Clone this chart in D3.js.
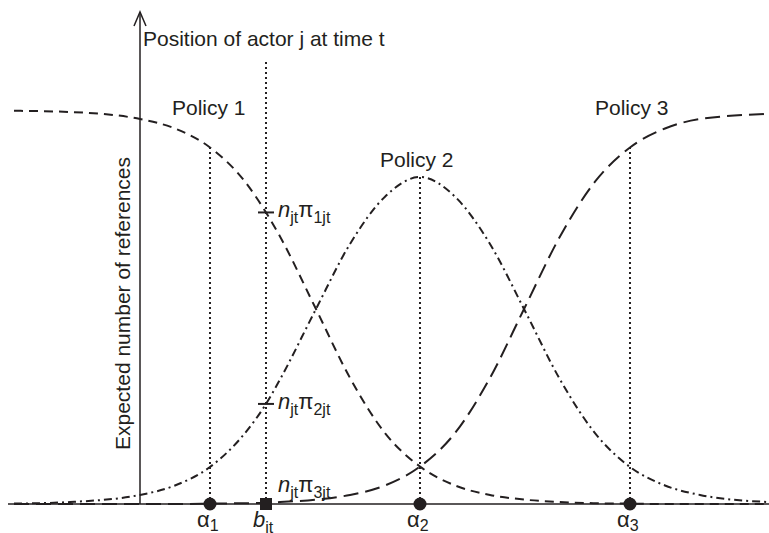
<!DOCTYPE html>
<html>
<head>
<meta charset="utf-8">
<script src="https://cdn.jsdelivr.net/npm/d3@7"></script>
<style>
  body { margin: 0; background: #fff; }
  text { font-family: "Liberation Sans", Arial, sans-serif; fill: #231f20; }
</style>
</head>
<body>
<script>
// Expected references to each policy along the actor position scale

var positions = [-2.9, -2.5, -2.0, -1.75, -1.5, -1.25, -1.1, -1.0, -0.75, -0.5, -0.25, 0, 0.25, 0.5, 0.75, 1.0, 1.25, 1.5, 1.75, 2.0, 2.49];
var policy1 = [0.998, 0.995, 0.977, 0.953, 0.905, 0.818, 0.74, 0.679, 0.5, 0.32, 0.18, 0.095, 0.047, 0.023, 0.011, 0.005, 0.002, 0.001, 0, 0, 0];
var policy2 = [0.001, 0.005, 0.023, 0.047, 0.094, 0.18, 0.254, 0.316, 0.49, 0.66, 0.78, 0.83, 0.78, 0.66, 0.49, 0.316, 0.18, 0.094, 0.047, 0.023, 0.005];
var policy3 = [0, 0, 0, 0, 0.001, 0.002, 0.003, 0.005, 0.011, 0.023, 0.047, 0.095, 0.18, 0.32, 0.5, 0.679, 0.818, 0.905, 0.953, 0.977, 0.99];
var policyNames = ["Policy 1", "Policy 2", "Policy 3"];
var cutpoints = [-1.5, 0, 1.5];
var cutLabels = ["1", "2", "3"];
var actorPos = -1.1;

var width = 769;
var height = 533;

var x = d3.scaleLinear()
        .domain([-3, 2.5])
        .range([0, 770]);

var y = d3.scaleLinear()
        .domain([0, 1])
        .range([504, 110]);

var svg = d3.select("body")
            .append("svg")
            .attr("width", width)
            .attr("height", height);

var series = [
  {values: policy1, dash: "9,6"},
  {values: policy2, dash: "8,4,2,4"},
  {values: policy3, dash: "15,7"}
];

var line = d3.line()
          .x(function(d) { return x(d[0]); })
          .y(function(d) { return y(d[1]); })
          .curve(d3.curveMonotoneX);

// horizontal axis
svg.append("line")
   .attr("x1", 8).attr("x2", width)
   .attr("y1", y(0)).attr("y2", y(0))
   .attr("stroke", "#231f20")
   .attr("stroke-width", 1.5);

// vertical axis with open arrow
var yAxisX = x(-2);
svg.append("line")
   .attr("x1", yAxisX).attr("x2", yAxisX)
   .attr("y1", y(0)).attr("y2", 12)
   .attr("stroke", "#231f20")
   .attr("stroke-width", 1.5);
svg.append("path")
   .attr("d", "M" + (yAxisX - 6) + ",26 L" + yAxisX + ",12 L" + (yAxisX + 6) + ",26")
   .attr("fill", "none")
   .attr("stroke", "#231f20")
   .attr("stroke-width", 1.5);

// dotted guides at the cutpoints, up to the peak curve there
var peakCurve = [policy1, policy2, policy3];
svg.selectAll(".guide")
   .data(cutpoints)
   .enter()
   .append("line")
   .attr("class", "guide")
   .attr("x1", function(d) { return x(d); })
   .attr("x2", function(d) { return x(d); })
   .attr("y1", y(0))
   .attr("y2", function(d, i) { return y(peakCurve[i][positions.indexOf(d)]); })
   .attr("stroke", "#231f20")
   .attr("stroke-width", 2)
   .attr("stroke-dasharray", "2,3");

// actor position line
svg.append("line")
   .attr("x1", x(actorPos)).attr("x2", x(actorPos))
   .attr("y1", y(0)).attr("y2", 62)
   .attr("stroke", "#231f20")
   .attr("stroke-width", 2)
   .attr("stroke-dasharray", "2,3");

// curves
svg.selectAll(".curve")
   .data(series)
   .enter()
   .append("path")
   .attr("class", "curve")
   .attr("d", function(s) { return line(positions.map(function(p, i) { return [p, s.values[i]]; })); })
   .attr("fill", "none")
   .attr("stroke", "#231f20")
   .attr("stroke-width", 2)
   .attr("stroke-dasharray", function(s) { return s.dash; });

// ticks where actor line meets policy 1 and 2
var bi = positions.indexOf(actorPos);
[policy1[bi], policy2[bi]].forEach(function(v) {
  svg.append("line")
     .attr("x1", x(actorPos) - 8).attr("x2", x(actorPos) + 8)
     .attr("y1", y(v)).attr("y2", y(v))
     .attr("stroke", "#231f20")
     .attr("stroke-width", 2);
});

// markers on the axis
svg.selectAll(".cut")
   .data(cutpoints)
   .enter()
   .append("circle")
   .attr("cx", function(d) { return x(d); })
   .attr("cy", y(0))
   .attr("r", 6.5)
   .attr("fill", "#231f20");

svg.append("rect")
   .attr("x", x(actorPos) - 6).attr("y", y(0) - 6)
   .attr("width", 12).attr("height", 12)
   .attr("fill", "#231f20");

// cutpoint labels
var cutText = svg.selectAll(".cutlabel")
   .data(cutpoints)
   .enter()
   .append("text")
   .attr("x", function(d) { return x(d) - 13; })
   .attr("y", 527)
   .style("font-size", "22px");
cutText.append("tspan").text("α");
cutText.append("tspan")
       .attr("dy", 4)
       .style("font-size", "16px")
       .text(function(d, i) { return cutLabels[i]; });

var bText = svg.append("text")
   .attr("x", x(actorPos) - 13)
   .attr("y", 527)
   .style("font-size", "22px");
bText.append("tspan").style("font-style", "italic").text("b");
bText.append("tspan").attr("dy", 6).style("font-size", "16px").text("jt");

// n pi labels
var piLabels = [
  {sub: "1jt", v: policy1[bi], dy: 5},
  {sub: "2jt", v: policy2[bi], dy: 5},
  {sub: "3jt", v: 0.03, dy: 0}
];
piLabels.forEach(function(p) {
  var t = svg.append("text")
     .attr("x", x(actorPos) + 12)
     .attr("y", y(p.v) + p.dy)
     .style("font-size", "22px");
  t.append("tspan").style("font-style", "italic").text("n");
  t.append("tspan").attr("dy", 6).style("font-size", "16px").text("jt");
  t.append("tspan").attr("dy", -6).text("π");
  t.append("tspan").attr("dy", 6).style("font-size", "16px").text(p.sub);
});

// policy names
var namePos = [[172, 115], [380, 167], [595, 115]];
svg.selectAll(".pname")
   .data(policyNames)
   .enter()
   .append("text")
   .attr("x", function(d, i) { return namePos[i][0]; })
   .attr("y", function(d, i) { return namePos[i][1]; })
   .style("font-size", "21px")
   .text(function(d) { return d; });

// axis titles
svg.append("text")
   .attr("x", 143)
   .attr("y", 46)
   .style("font-size", "21px")
   .text("Position of actor j at time t");

svg.append("text")
   .attr("transform", "translate(130, 450) rotate(-90)")
   .style("font-size", "21px")
   .text("Expected number of references");
</script>
</body>
</html>
